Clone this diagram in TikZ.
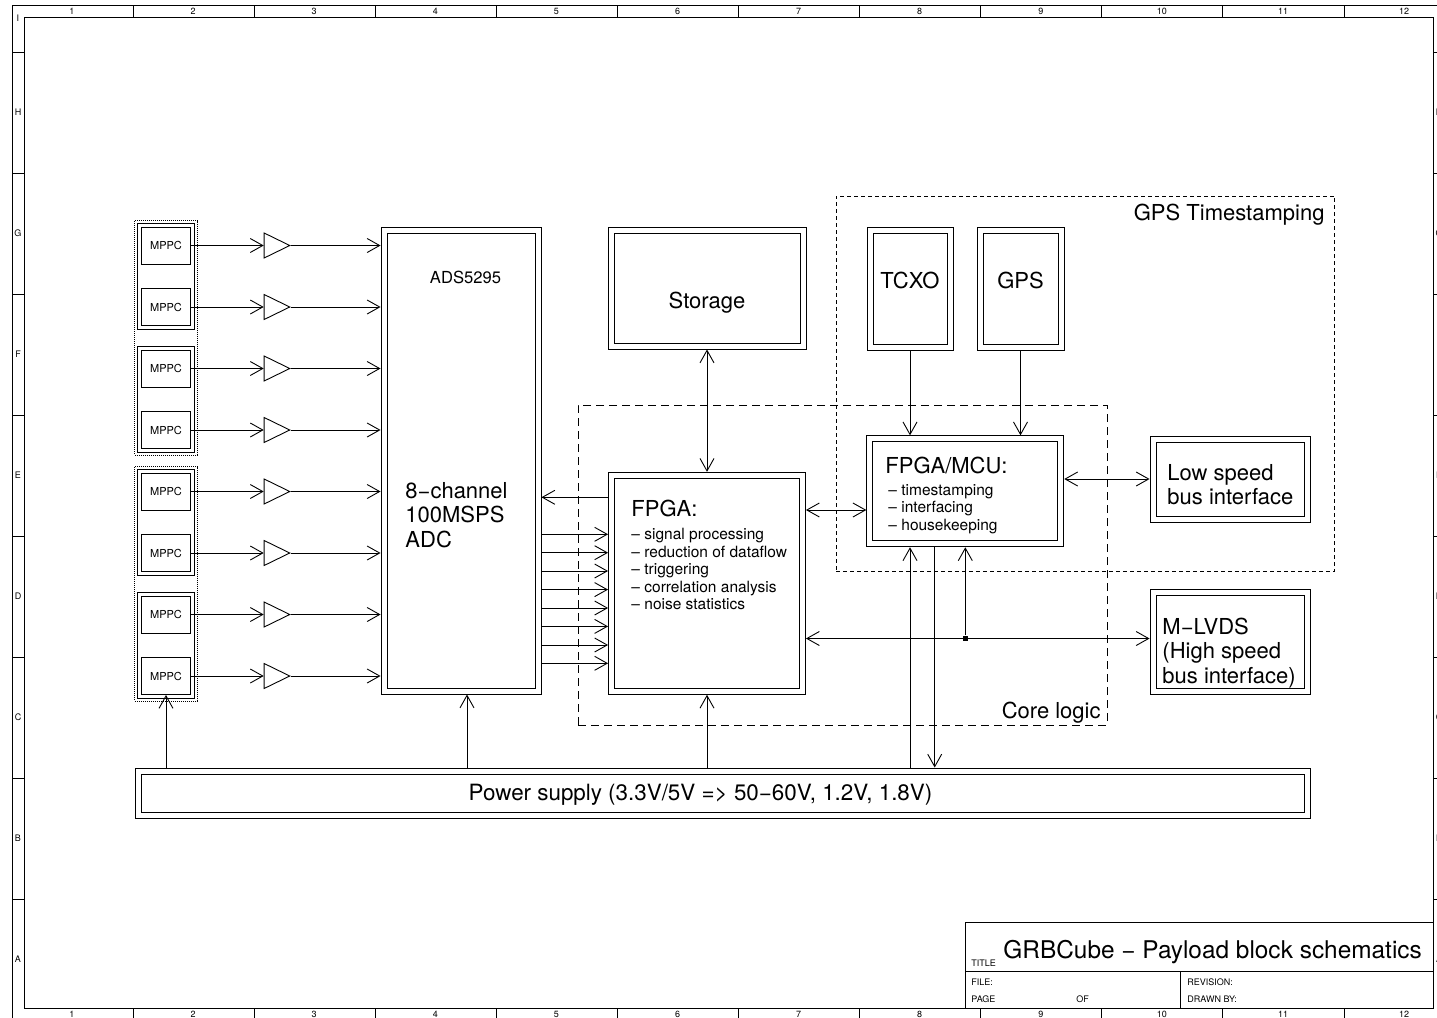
\documentclass[tikz,border=0pt]{standalone}
\usepackage{fontspec}
\setmainfont{TeX Gyre Heros}
\usetikzlibrary{positioning,arrows.meta,shapes.geometric,fit,calc}

\begin{document}
\begin{tikzpicture}[
  x=1pt, y=-1pt,
  line width=0.9pt,
  >={Straight Barb[length=12.5pt,width=14pt]},
  % --- blocks ---
  dbox/.style={draw, inner sep=0pt, path picture={
    \draw ([shift={(6pt,-6pt)}]path picture bounding box.north west) rectangle ([shift={(-6pt,6pt)}]path picture bounding box.south east);}},
  mppc/.style={draw, minimum width=49.5pt, minimum height=37pt, inner sep=0pt, font=\fontsize{11}{13}\selectfont},
  amp/.style={draw, isosceles triangle, isosceles triangle stretches, minimum width=25pt, minimum height=25.6pt, inner sep=0pt},
  pairring/.style={draw, inner sep=3.4pt},
  groupring/.style={draw, dash pattern=on 1pt off 1pt, inner sep=6pt},
  junction/.style={fill=black, minimum size=5.5pt, inner sep=0pt},
  % --- dashed regions ---
  coreregion/.style={draw, dash pattern=on 8pt off 5pt, inner sep=0pt},
  gpsregion/.style={draw, dash pattern=on 4pt off 3pt, inner sep=0pt},
  % --- texts ---
  big/.style={font=\fontsize{22}{24.5}\selectfont, align=left, inner sep=0pt},
  small/.style={font=\fontsize{15.5}{17.5}\selectfont, align=left, inner sep=0pt},
  sheet/.style={font=\fontsize{9}{10}\selectfont, inner sep=0pt},
  % --- relations ---
  wire/.style={->},
  both/.style={<->},
]
\clip (0,0) rectangle (1437,1017);

% =================== DRAWING SHEET ===================
\draw[line width=1pt] (12,5) rectangle (1470,1040);
\draw[line width=1pt] (24,17.5) rectangle (1433,1008);
\foreach \i in {0,...,10}
  \draw[line width=1pt] ({133+121.1*\i},5) -- ++(0,12.5) ({133+121.1*\i},1008) -- ++(0,30);
\foreach \i in {0,...,7}
  \draw[line width=1pt] (12,{52+121*\i}) -- ++(12,0) (1433,{52+121*\i}) -- ++(30,0);
\foreach \i in {1,...,12} {
  \node[sheet] at ({72+121.1*(\i-1)},11) {\i};
  \node[sheet] at ({72+121.1*(\i-1)},1014) {\i};
}
\foreach \l/\yy in {I/18,H/112,G/233,F/354,E/475,D/596,C/717,B/838,A/959} {
  \node[sheet] at (18,\yy) {\l};
  \node[sheet] at (1439,\yy) {\l};
}

% title block
\draw[line width=1pt] (965,1008) |- (1433,922) (965,971) -- (1433,971) (1180,971) -- (1180,1008);
\node[sheet, anchor=base west] (titleL) at (971,966) {TITLE};
\node[anchor=base west, inner sep=0pt, font=\fontsize{24.4}{26}\selectfont] (title) at (1003,958) {GRBCube − Payload block schematics};
\node[sheet, anchor=base west] (fileL) at (971,985) {FILE:};
\node[sheet, anchor=base west] (pageL) at (971,1002) {PAGE};
\node[sheet, anchor=base west] (ofL) at (1076,1002) {OF};
\node[sheet, anchor=base west] (revL) at (1187,985) {REVISION:};
\node[sheet, anchor=base west] (drawnL) at (1187,1002) {DRAWN BY:};

% =================== SENSORS ===================
\node[mppc] (m1) at (166,245.5) {MPPC};
\node[mppc, below=23.6pt of m1] (m2) {MPPC};
\node[mppc, below=23.6pt of m2] (m3) {MPPC};
\node[mppc, below=23.6pt of m3] (m4) {MPPC};
\node[mppc, below=23.6pt of m4] (m5) {MPPC};
\node[mppc, below=23.6pt of m5] (m6) {MPPC};
\node[mppc, below=23.6pt of m6] (m7) {MPPC};
\node[mppc, below=23.6pt of m7] (m8) {MPPC};

\node[pairring, fit=(m1)(m2)] (pairA) {};
\node[pairring, fit=(m3)(m4)] (pairB) {};
\node[pairring, fit=(m5)(m6)] (pairC) {};
\node[pairring, fit=(m7)(m8)] (pairD) {};
\node[groupring, fit=(m1)(m4)] (groupA) {};
\node[groupring, fit=(m5)(m8)] (groupB) {};

% =================== AMPLIFIERS ===================
\node[amp, right=72.5pt of m1] (a1) {};
\node[amp, right=72.5pt of m2] (a2) {};
\node[amp, right=72.5pt of m3] (a3) {};
\node[amp, right=72.5pt of m4] (a4) {};
\node[amp, right=72.5pt of m5] (a5) {};
\node[amp, right=72.5pt of m6] (a6) {};
\node[amp, right=72.5pt of m7] (a7) {};
\node[amp, right=72.5pt of m8] (a8) {};

% =================== BLOCKS ===================
\node[dbox, minimum width=160pt, minimum height=467pt] (adc) at (461,460.5) {};
\node[dbox, minimum width=198pt, minimum height=122pt] (storage) at (707,288) {};
\node[dbox, minimum width=197pt, minimum height=222pt] (fpga) at (707,583.3) {};
\node[dbox, minimum width=197pt, minimum height=111pt] (mcu) at (965.3,491.3) {};
\node[dbox, minimum width=86pt, minimum height=123pt] (tcxo) at (910,288.5) {};
\node[dbox, minimum width=87pt, minimum height=123pt] (gps) at (1020.5,288.5) {};
\node[dbox, minimum width=160pt, minimum height=86pt] (lowbus) at (1230,479) {};
\node[dbox, minimum width=160pt, minimum height=104.5pt] (lvds) at (1230,642) {};
\node[dbox, minimum width=1175pt, minimum height=50pt] (pwr) at (722.5,793) {};

% block texts
\node[inner sep=0pt, font=\fontsize{16.6}{18}\selectfont] (adcT) at (465.5,277) {ADS5295};
\node[big, anchor=west] (adcL) at (405,515) {8−channel\\100MSPS\\ADC};
\node[big] (storageL) at (707,302.5) {Storage};
\node[big] (tcxoL) at (910,280) {TCXO};
\node[big] (gpsL) at (1020.5,280) {GPS};
\node[big, anchor=west] (fpgaL) at (631,508) {FPGA:};
\node[small, anchor=north west] (fpgaT) at (631,528) {– signal processing\\– reduction of dataflow\\– triggering\\– correlation analysis\\– noise statistics};
\node[big, anchor=west] (mcuL) at (885,465) {FPGA/MCU:};
\node[small, anchor=north west] (mcuT) at (888,484) {– timestamping\\– interfacing\\– housekeeping};
\node[big, anchor=west] (lowbusL) at (1167,484.5) {Low speed\\bus interface};
\node[big, anchor=west] (lvdsL) at (1162,653) {M−LVDS\\(High speed\\bus interface)};
\node[big, font=\fontsize{22.4}{24}\selectfont] (pwrL) at (700.5,794.5) {Power supply (3.3V/5V => 50−60V, 1.2V, 1.8V)};

% =================== DASHED REGIONS ===================
\node[coreregion, minimum width=529pt, minimum height=320pt] (core) at (842.5,565) {};
\node[gpsregion, minimum width=498.5pt, minimum height=375.5pt] (gpsbox) at (1085.5,383.7) {};
\node[big, anchor=east] (coreL) at (1101,713) {Core logic};
\node[big, anchor=east] (gpsboxL) at (1325,215) {GPS Timestamping};

% =================== RELATIONS ===================
% sensors to amplifiers
\draw[wire] (m1) -- (a1.west);
\draw[wire] (m2) -- (a2.west);
\draw[wire] (m3) -- (a3.west);
\draw[wire] (m4) -- (a4.west);
\draw[wire] (m5) -- (a5.west);
\draw[wire] (m6) -- (a6.west);
\draw[wire] (m7) -- (a7.west);
\draw[wire] (m8) -- (a8.west);

% amplifiers to ADC
\draw[wire] (a1.east) -- (a1.east -| adc.west);
\draw[wire] (a2.east) -- (a2.east -| adc.west);
\draw[wire] (a3.east) -- (a3.east -| adc.west);
\draw[wire] (a4.east) -- (a4.east -| adc.west);
\draw[wire] (a5.east) -- (a5.east -| adc.west);
\draw[wire] (a6.east) -- (a6.east -| adc.west);
\draw[wire] (a7.east) -- (a7.east -| adc.west);
\draw[wire] (a8.east) -- (a8.east -| adc.west);

% ADC data lanes
\coordinate (clk) at (0,497.3);
\coordinate (d1) at (0,534.3);
\coordinate (d2) at (0,552.7);
\coordinate (d3) at (0,571);
\coordinate (d4) at (0,589.6);
\coordinate (d5) at (0,608);
\coordinate (d6) at (0,626.4);
\coordinate (d7) at (0,645);
\coordinate (d8) at (0,663.3);
\draw[wire] (clk -| fpga.west) -- (clk -| adc.east);
\draw[wire] (d1 -| adc.east) -- (d1 -| fpga.west);
\draw[wire] (d2 -| adc.east) -- (d2 -| fpga.west);
\draw[wire] (d3 -| adc.east) -- (d3 -| fpga.west);
\draw[wire] (d4 -| adc.east) -- (d4 -| fpga.west);
\draw[wire] (d5 -| adc.east) -- (d5 -| fpga.west);
\draw[wire] (d6 -| adc.east) -- (d6 -| fpga.west);
\draw[wire] (d7 -| adc.east) -- (d7 -| fpga.west);
\draw[wire] (d8 -| adc.east) -- (d8 -| fpga.west);

% storage and FPGA links
\coordinate (link) at (0,510);
\coordinate (slow) at (0,479);
\coordinate (bus) at (0,638.5);
\draw[both] (storage) -- (fpga);
\draw[both] (link -| fpga.east) -- (link -| mcu.west);
\draw[both] (slow -| mcu.east) -- (slow -| lowbus.west);
\draw[both] (bus -| fpga.east) -- (bus -| lvds.west);
\node[junction] (jn) at (bus -| mcu) {};
\draw[wire] (jn) -- (mcu.south);

% timing into FPGA/MCU
\draw[wire] (tcxo.south) -- (tcxo.south |- mcu.north);
\draw[wire] (gps.south) -- (gps.south |- mcu.north);

% power rails
\coordinate (padc) at (467,0);
\coordinate (psense) at (934.7,0);
\draw[wire] (pwr.north -| m8) -- (m8.south);
\draw[wire] (pwr.north -| padc) -- (adc.south -| padc);
\draw[wire] (pwr.north -| fpga) -- (fpga.south);
\draw[wire] (pwr.north -| tcxo) -- (mcu.south -| tcxo);
\draw[wire] (mcu.south -| psense) -- (pwr.north -| psense);

\end{tikzpicture}
\end{document}
